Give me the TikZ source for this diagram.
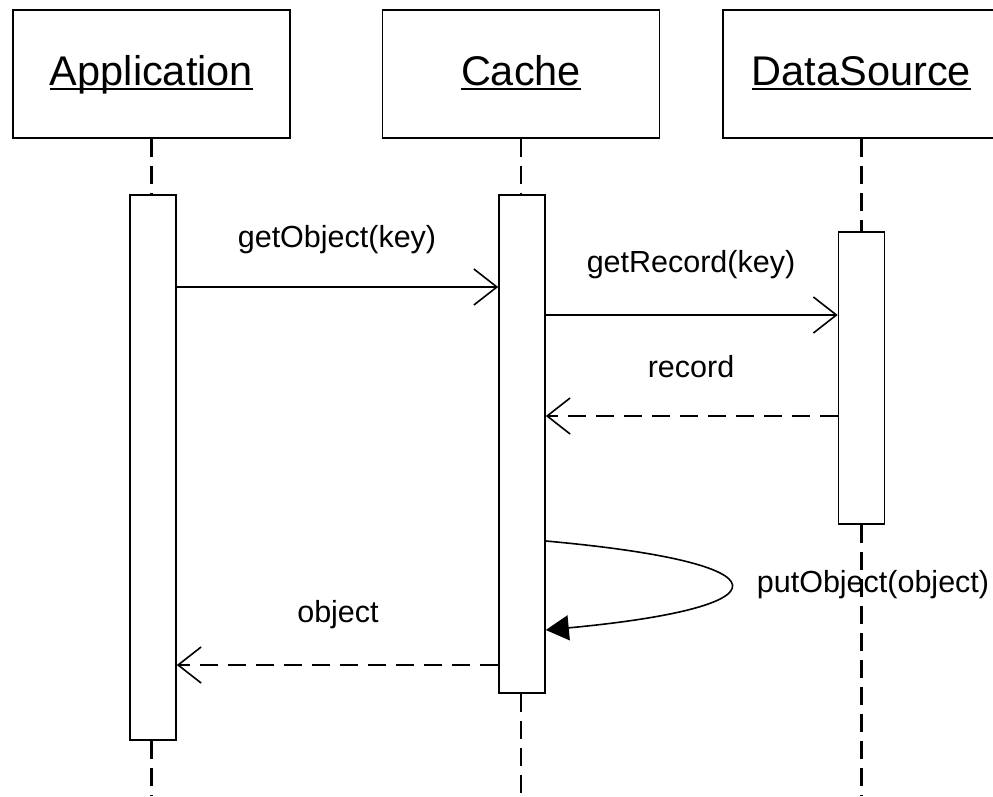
\documentclass[tikz,border=0pt]{standalone}
\usepackage{fontspec}
\setmainfont{Liberation Sans}
\usetikzlibrary{arrows.meta}
% underline at a fixed depth below the baseline, crossing descenders
\newcommand\namerule[1]{\setbox0\hbox{#1}\leavevmode\rlap{\rule[-4.5pt]{\wd0}{1.8pt}}\box0}
\begin{document}
\begin{tikzpicture}[x=1pt,y=-1pt,
  line width=1.6pt,
  headbox/.style={draw,rectangle,minimum width=277pt,minimum height=128pt,inner sep=0pt,
    text height=31pt,text depth=8pt,font=\fontsize{41.5}{48}\selectfont},
  actbox/.style={draw,rectangle,fill=white,minimum width=46pt,inner sep=0pt},
  lifeline/.style={line width=2.2pt,dash pattern=on 18pt off 9pt},
  msg/.style={-{Straight Barb[length=23pt,width=36pt,line width=1.6pt]}},
  reply/.style={msg,dash pattern=on 18pt off 10pt},
  selfmsg/.style={-{Triangle[length=23pt,width=25pt]}},
  lbl/.style={font=\fontsize{30.5}{36}\selectfont,inner sep=0pt}]
  \useasboundingbox (0,0) rectangle (993,796);
  \clip (0,0) rectangle (993,796);

  % participants
  \node[headbox] (app)   at (151.5,74) {\namerule{Application}};
  \node[headbox] (cache) at (521,74)   {\namerule{Cache}};
  \node[headbox] (ds)    at (861.5,74) {\namerule{DataSource}};

  % lifeline ends
  \coordinate (appEnd)   at (151.5,796);
  \coordinate (cacheEnd) at (521,796);
  \coordinate (dsEnd)    at (861.5,796);

  % activation bars
  \node[actbox,minimum height=545pt] (appAct)   at (153,467.5) {};
  \node[actbox,minimum height=498pt] (cacheAct) at (522,444)   {};
  \node[actbox,minimum height=292pt] (dsAct)    at (861.5,378) {};

  % lifelines
  \draw[lifeline] (app.south)   -- (appAct.north -| app.south);
  \draw[lifeline] (appAct.south -| app.south) -- (appEnd);
  \draw[lifeline] (cache.south) -- (cacheAct.north -| cache.south);
  \draw[lifeline] (cacheAct.south -| cache.south) -- (cacheEnd);
  \draw[lifeline] (ds.south)    -- (dsAct.north);
  \draw[lifeline] (dsAct.south) -- (dsEnd);
  % redraw bars over the lifelines
  \node[actbox,minimum height=545pt] at (appAct)   {};
  \node[actbox,minimum height=498pt] at (cacheAct) {};
  \node[actbox,minimum height=292pt] at (dsAct)    {};

  % messages
  \draw[msg]   (appAct.east |- 0,287)   -- (cacheAct.west |- 0,287);
  \node[lbl] (m1) at (337,240) {getObject(key)};

  \draw[msg]   (cacheAct.east |- 0,315) -- (dsAct.west |- 0,315);
  \node[lbl] (m2) at (691,265) {getRecord(key)};

  \draw[reply] (dsAct.west |- 0,416)    -- (cacheAct.east |- 0,416);
  \node[lbl] (m3) at (691,367) {record};

  \coordinate (selfA) at (cacheAct.east |- 0,541);
  \coordinate (selfB) at (cacheAct.east |- 0,630);
  \draw[selfmsg] (selfA) .. controls (791,563) and (791,607) .. (selfB);
  \node[lbl] (m4) at (873,585) {putObject(object)};

  \draw[reply] (cacheAct.west |- 0,665) -- (appAct.east |- 0,665);
  \node[lbl] (m5) at (338,615) {object};
\end{tikzpicture}
\end{document}
